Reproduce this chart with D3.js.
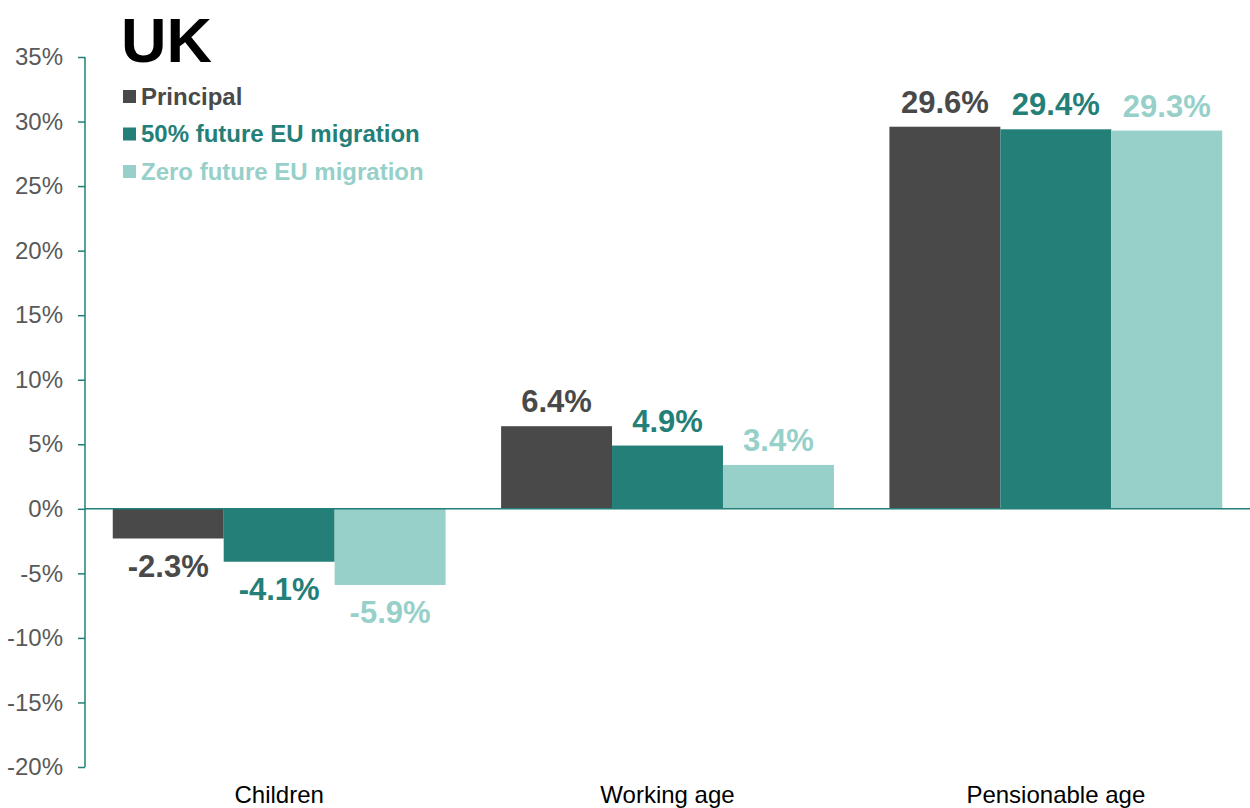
<!DOCTYPE html>
<html>
<head>
<meta charset="utf-8">
<script src="https://cdn.jsdelivr.net/npm/d3@7"></script>
<style>
  body { margin: 0; background: #fff; }
  text { font-family: "Liberation Sans", Arial, sans-serif; }
</style>
</head>
<body>
<div class="chart"></div>
<script>
// data
var categories = ["Children", "Working age", "Pensionable age"];
var seriesNames = ["Principal", "50% future EU migration", "Zero future EU migration"];
var principal = [-2.3, 6.4, 29.6];
var halfEU = [-4.1, 4.9, 29.4];
var zeroEU = [-5.9, 3.4, 29.3];
var yTicks = [35, 30, 25, 20, 15, 10, 5, 0, -5, -10, -15, -20];
var colors = ["#494949", "#237F78", "#96D0C9"];

var series = [principal, halfEU, zeroEU];

// dimensions
var W = 1250, H = 808;
var margin = {top: 57, right: 0, bottom: 41, left: 85};
var width = W - margin.left - margin.right;
var height = H - margin.top - margin.bottom;

var svg = d3.select(".chart").append("svg")
  .attr("width", W)
  .attr("height", H);

var chart = svg.append("g")
  .attr("transform", "translate(" + margin.left + "," + margin.top + ")");

// scales
var x0 = d3.scaleBand().domain(categories).range([0, width])
  .paddingInner(0.143).paddingOuter(0.0715);
var x1 = d3.scaleBand().domain(d3.range(series.length)).range([0, x0.bandwidth()]);
var y = d3.scaleLinear().domain([-20, 35]).range([height, 0]);

// y axis
var yAxis = chart.append("g")
  .call(d3.axisLeft(y).tickValues(yTicks).tickSize(7).tickPadding(15)
    .tickFormat(function(d) { return d + "%"; }));
yAxis.select(".domain").attr("stroke", "#237F78").attr("stroke-width", 1.5)
  .attr("d", "M0,0V" + height);
yAxis.selectAll(".tick line").attr("stroke", "#237F78").attr("stroke-width", 1.5);
yAxis.selectAll(".tick text").attr("fill", "#595959").style("font-size", "24px");

// bars
var groups = chart.selectAll(".grp")
  .data(categories)
  .enter().append("g")
  .attr("transform", function(d) { return "translate(" + x0(d) + ",0)"; });

groups.selectAll("rect")
  .data(function(d, i) { return series.map(function(s, k) { return {k: k, v: s[i]}; }); })
  .enter().append("rect")
  .attr("x", function(d) { return x1(d.k); })
  .attr("width", x1.bandwidth())
  .attr("y", function(d) { return y(Math.max(0, d.v)); })
  .attr("height", function(d) { return Math.abs(y(d.v) - y(0)); })
  .attr("fill", function(d) { return colors[d.k]; });

// value labels
groups.selectAll(".val")
  .data(function(d, i) { return series.map(function(s, k) { return {k: k, v: s[i]}; }); })
  .enter().append("text")
  .attr("x", function(d) { return x1(d.k) + x1.bandwidth() / 2; })
  .attr("y", function(d) { return d.v >= 0 ? y(d.v) - 14 : y(d.v) + 38; })
  .attr("text-anchor", "middle")
  .attr("fill", function(d) { return colors[d.k]; })
  .style("font-size", "31px")
  .style("font-weight", "bold")
  .text(function(d) { return d.v.toFixed(1) + "%"; });

// zero line
chart.append("line")
  .attr("x1", 0).attr("x2", width)
  .attr("y1", y(0)).attr("y2", y(0))
  .attr("stroke", "#237F78").attr("stroke-width", 1.5);

// category labels
chart.selectAll(".cat")
  .data(categories)
  .enter().append("text")
  .attr("x", function(d) { return x0(d) + x0.bandwidth() / 2; })
  .attr("y", height + 36)
  .attr("text-anchor", "middle")
  .attr("fill", "#000")
  .style("font-size", "24px")
  .text(function(d) { return d; });

// title
svg.append("text")
  .attr("x", 121).attr("y", 62)
  .style("font-size", "63px").style("font-weight", "bold")
  .attr("fill", "#000")
  .text("UK");

// legend
var legend = svg.selectAll(".leg")
  .data(seriesNames)
  .enter().append("g")
  .attr("transform", function(d, i) { return "translate(123," + (96 + i * 37.5) + ")"; });
legend.append("rect")
  .attr("x", 0).attr("y", -6).attr("width", 13).attr("height", 13)
  .attr("fill", function(d, i) { return colors[i]; });
legend.append("text")
  .attr("x", 18).attr("y", 8.5)
  .attr("fill", function(d, i) { return colors[i]; })
  .style("font-size", "24px").style("font-weight", "bold")
  .text(function(d) { return d; });
</script>
</body>
</html>
